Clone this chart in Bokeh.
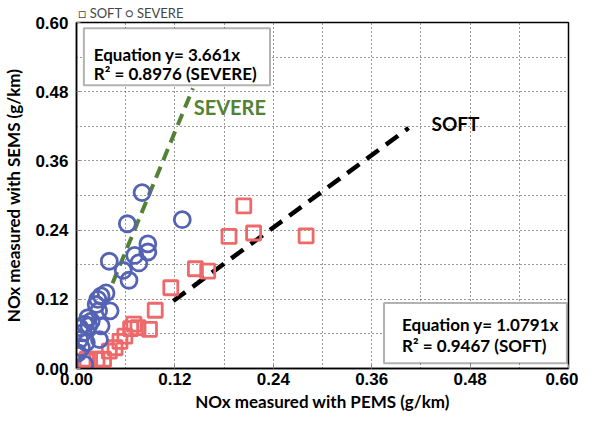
from bokeh.plotting import figure
from bokeh.models import (Range1d, FixedTicker, PrintfTickFormatter, Label, BoxAnnotation,
                          ColumnDataSource)
from bokeh.embed import file_html
from bokeh.resources import INLINE

# ---- data ----
severe_x = [0.080, 0.062, 0.129, 0.087, 0.087, 0.071, 0.076, 0.040, 0.057, 0.064,
            0.036, 0.030, 0.026, 0.024, 0.041, 0.027, 0.014, 0.018, 0.010, 0.030,
            0.015, 0.008, 0.028, 0.012, 0.004, 0.006, 0.002, 0.010, 0.004]
severe_y = [0.305, 0.251, 0.258, 0.216, 0.202, 0.196, 0.183, 0.186, 0.170, 0.153,
            0.131, 0.126, 0.120, 0.111, 0.100, 0.100, 0.088, 0.082, 0.077, 0.074,
            0.074, 0.062, 0.050, 0.045, 0.050, 0.036, 0.027, 0.007, 0.071]
soft_x = [0.204, 0.186, 0.216, 0.280, 0.145, 0.160, 0.115, 0.096, 0.089, 0.075,
          0.066, 0.059, 0.053, 0.047, 0.040, 0.033, 0.025, 0.013, 0.012, 0.070]
soft_y = [0.282, 0.229, 0.235, 0.230, 0.173, 0.169, 0.140, 0.101, 0.068, 0.071,
          0.069, 0.056, 0.047, 0.036, 0.030, 0.016, 0.016, 0.016, 0.013, 0.077]
severe_line_x = [0.044, 0.142]
severe_line_y = [0.148, 0.486]
soft_line_x = [0.118, 0.405]
soft_line_y = [0.117, 0.417]
major_ticks = [0.0, 0.12, 0.24, 0.36, 0.48, 0.60]
grid_ticks = [0.0, 0.06, 0.12, 0.18, 0.24, 0.30, 0.36, 0.42, 0.48, 0.54, 0.60]
severe_eq = ["Equation y= 3.661x", "R\u00b2  = 0.8976 (SEVERE)"]
soft_eq = ["Equation y= 1.0791x", "R\u00b2  = 0.9467 (SOFT)"]
legend_labels = ["SOFT", "SEVERE"]

RED = "#EE6A6A"
BLUE = "#5563B4"
GREEN = "#538135"
FONT = "Lato"

# ---------- main chart ----------
p = figure(width=578, height=418, output_backend="svg", toolbar_location=None,
           x_range=Range1d(0, 0.6), y_range=Range1d(0, 0.6),
           min_border_left=72, min_border_right=10, min_border_bottom=50, min_border_top=0,
           background_fill_color="white", border_fill_color="white")
p.outline_line_color = "black"
p.outline_line_width = 1.5

# legend row above the plot (as a title line with marker symbols)
p.title.text = "\u25a1 " + legend_labels[0] + "   \u25cb " + legend_labels[1]
p.title.text_font = FONT
p.title.text_font_style = "normal"
p.title.text_font_size = "13px"
p.title.text_color = "#454545"
p.title.align = "left"
p.title.offset = 2
p.title.standoff = 4

for ax in (p.xaxis[0], p.yaxis[0]):
    ax.ticker = FixedTicker(ticks=major_ticks, minor_ticks=grid_ticks)
    ax.formatter = PrintfTickFormatter(format="%.2f")
    ax.major_label_text_font = "Liberation Sans"
    ax.major_label_text_font_style = "bold"
    ax.major_label_text_font_size = "17px"
    ax.major_label_text_color = "black"
    ax.axis_label_text_font = FONT
    ax.axis_label_text_font_style = "bold"
    ax.axis_label_text_font_size = "17px"
    ax.axis_label_text_color = "black"
    ax.axis_line_color = "black"
    ax.axis_line_width = 1.5
    ax.major_tick_in = 4
    ax.major_tick_out = 0
    ax.major_tick_line_color = "#888888"
    ax.minor_tick_in = 0
    ax.minor_tick_out = 0

p.xaxis.axis_label = "NOx measured with PEMS (g/km)"
p.yaxis.axis_label = "NOx measured with SEMS (g/km)"
p.xaxis.major_label_standoff = 4
p.xaxis.axis_label_standoff = 3
p.yaxis.major_label_standoff = 8
p.yaxis.axis_label_standoff = 8

for g in (p.xgrid[0], p.ygrid[0]):
    g.ticker = FixedTicker(ticks=grid_ticks)
    g.grid_line_color = "#333333"
    g.grid_line_dash = "1 3"
    g.grid_line_width = 1

# trend lines
p.line(soft_line_x, soft_line_y, line_color="black", line_width=4.5, line_dash="15 9")
p.line(severe_line_x, severe_line_y, line_color=GREEN, line_width=4, line_dash="12 7")

# points
soft_src = ColumnDataSource(dict(x=soft_x, y=soft_y))
sev_src = ColumnDataSource(dict(x=severe_x, y=severe_y))
p.scatter("x", "y", source=soft_src, marker="square", size=14, fill_color="white",
          fill_alpha=0, line_color=RED, line_width=2.8)
p.scatter("x", "y", source=sev_src, marker="circle", size=16, fill_color="white",
          fill_alpha=0, line_color=BLUE, line_width=2.8)

# equation boxes
p.add_layout(BoxAnnotation(left=0.009, right=0.236, bottom=0.491, top=0.590,
                           fill_color="white", fill_alpha=1, line_color="black", line_width=2))
p.add_layout(BoxAnnotation(left=0.375, right=0.598, bottom=0.0092, top=0.1136,
                           fill_color="white", fill_alpha=1, line_color="black", line_width=2))

def lab(x, y, text, size="18px", color="black"):
    p.add_layout(Label(x=x, y=y, text=text, text_font=FONT, text_font_style="bold",
                       text_font_size=size, text_color=color, text_baseline="middle",
                       text_align="left"))

lab(0.021, 0.545, severe_eq[0], size="17px")
lab(0.021, 0.512, severe_eq[1], size="17px")
lab(0.397, 0.0763, soft_eq[0], size="17px")
lab(0.397, 0.0398, soft_eq[1], size="17px")
lab(0.143, 0.453, "SEVERE", size="20px", color=GREEN)
lab(0.433, 0.425, "SOFT", size="19px")

open("out.html", "w").write(file_html(p, INLINE))
